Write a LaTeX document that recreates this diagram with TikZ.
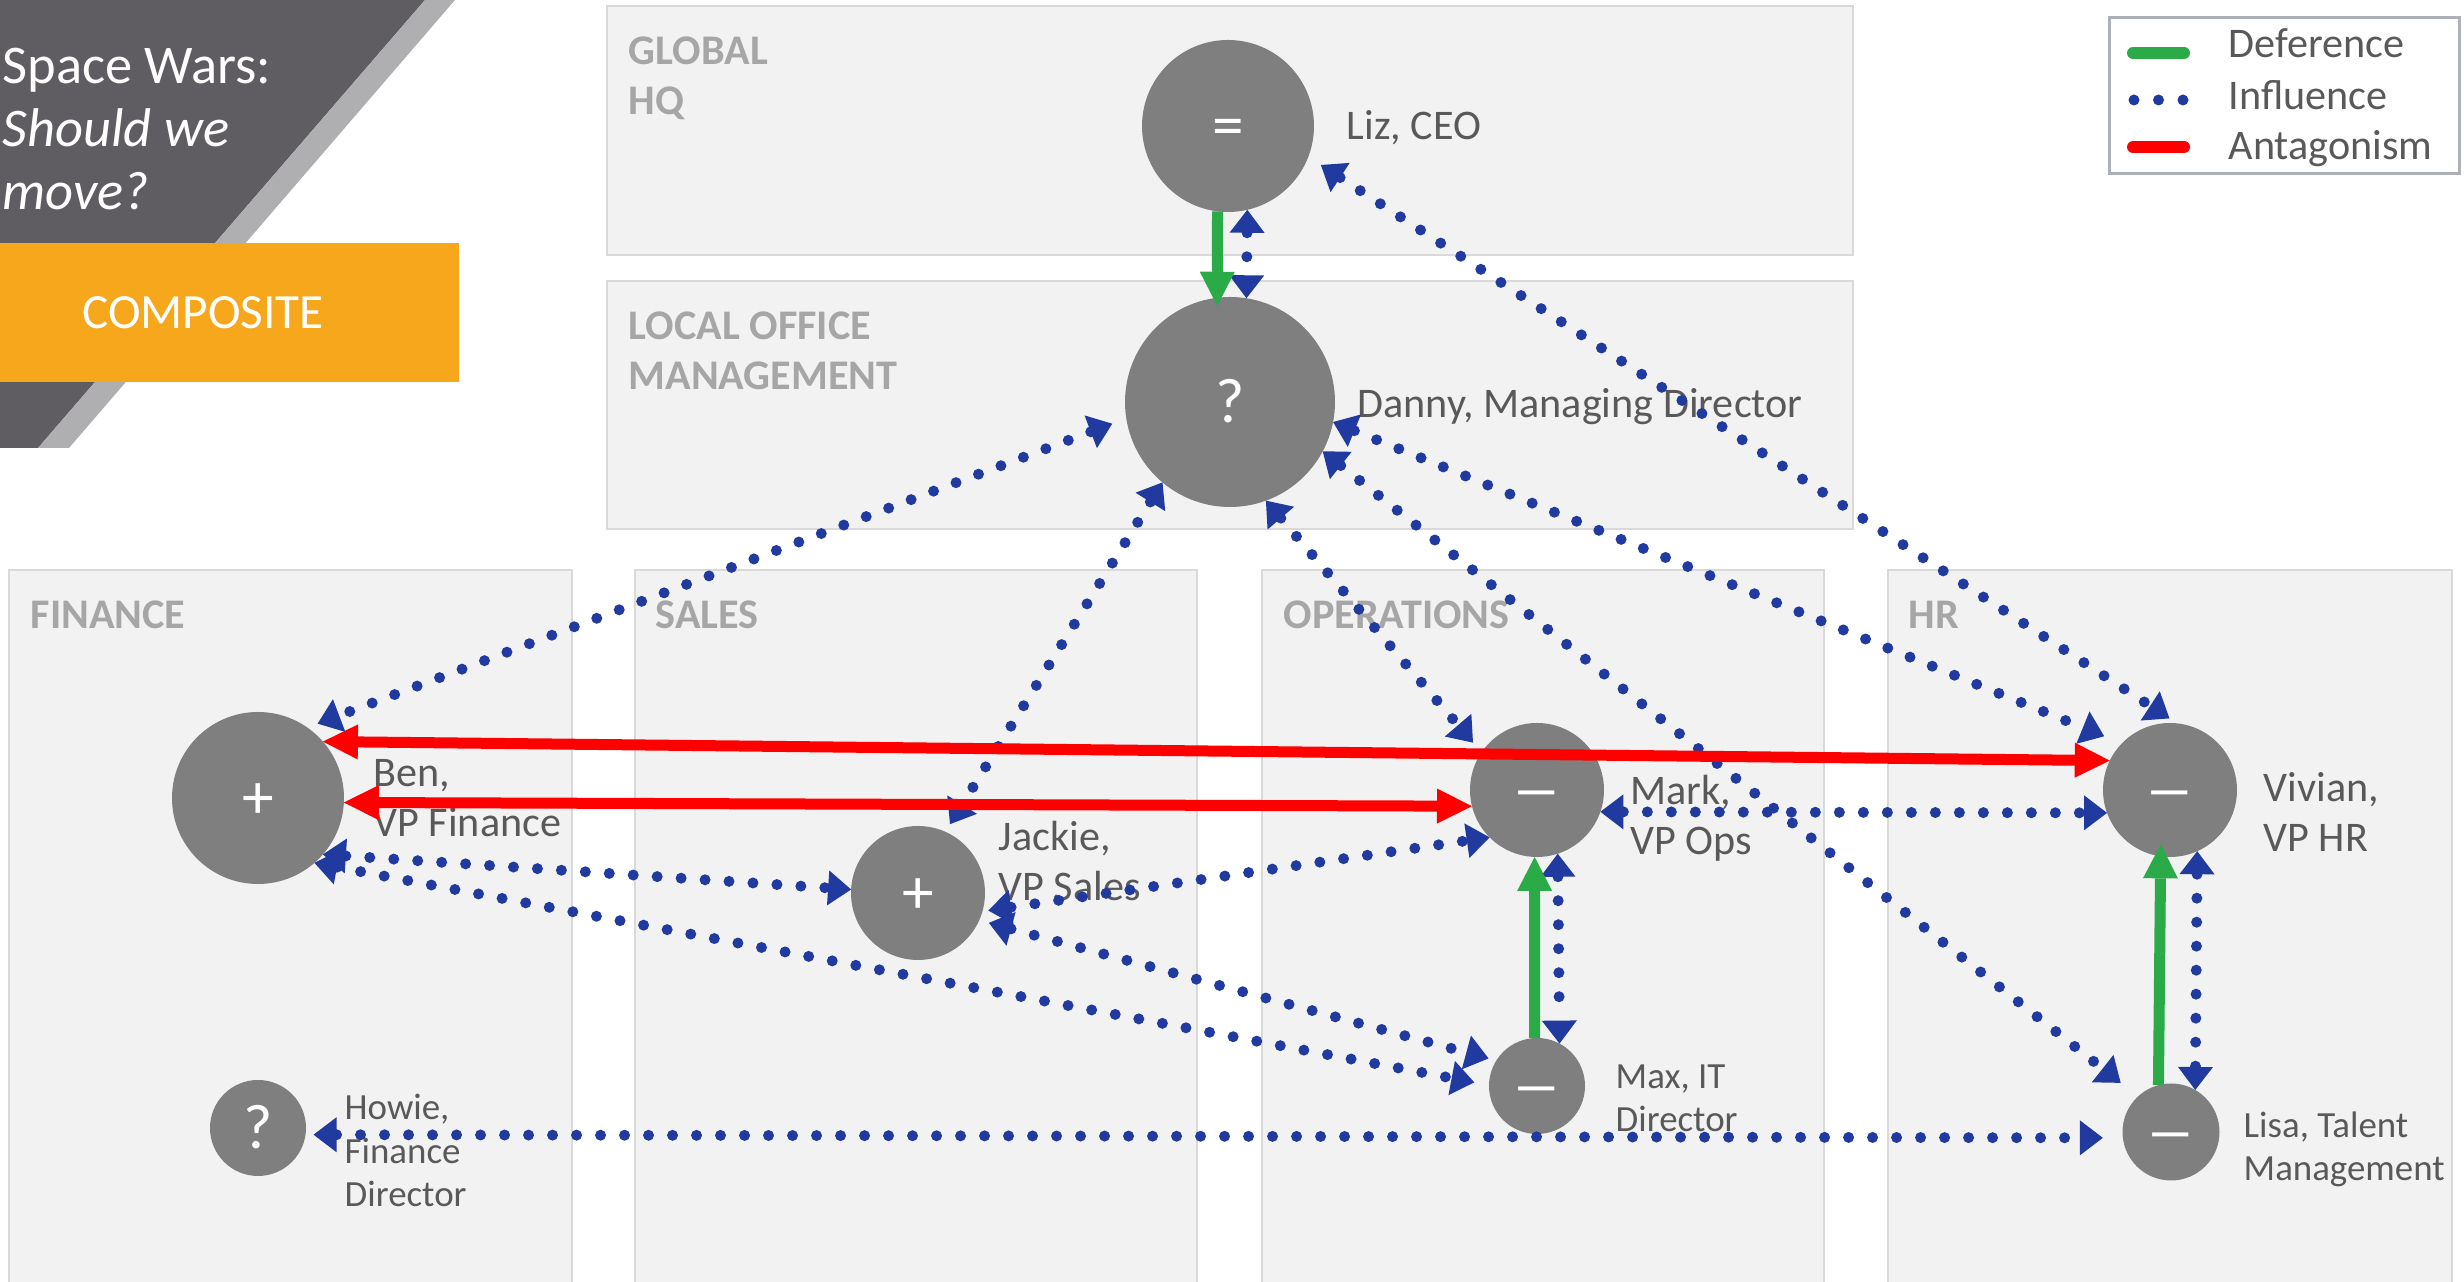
\documentclass[tikz,border=0pt]{standalone}
\usepackage{fontspec}
\setmainfont{Carlito}
\usepackage{tkz-graph}
\usetikzlibrary{arrows.meta}
\definecolor{infblue}{RGB}{32,58,160}
\definecolor{defgreen}{RGB}{42,171,72}
\definecolor{antred}{RGB}{255,0,0}
\definecolor{nodegray}{RGB}{127,127,127}
\definecolor{panelfill}{RGB}{242,242,242}
\definecolor{panelline}{RGB}{217,217,217}
\definecolor{panelword}{RGB}{166,166,166}
\definecolor{namegray}{RGB}{89,89,89}
\definecolor{titledark}{RGB}{95,93,97}
\definecolor{titlestripe}{RGB}{175,174,177}
\definecolor{composite}{RGB}{247,167,28}
\definecolor{legendline}{RGB}{173,177,183}
\newcommand{\minusbar}{\scalebox{1.6}[1]{–}}

\begin{document}
\begin{tikzpicture}
\GraphInit[vstyle=Normal]
\tikzset{VertexStyle/.style = {shape = circle, fill = nodegray, text = white, inner sep = 0pt, outer sep = 0pt, text height = 0.42cm, text depth = 0pt, font = \fontsize{18}{18}\selectfont},
  EdgeStyle/.style = {draw}, LabelStyle/.style = {inner sep = 0pt},
  dots/.style = {infblue, line width = 0.11cm, line cap = round, dash pattern = on 0pt off 0.24cm},
  influence/.style = {dots, >={Triangle[length=0.23cm,width=0.35cm,line width=0pt]}, <->},
  deference/.style = {defgreen, line width = 0.11cm, >={Triangle[length=0.34cm,width=0.35cm,line width=0pt]}, ->},
  antagonism/.style = {antred, line width = 0.11cm, >={Triangle[length=0.35cm,width=0.35cm,line width=0pt]}, <->},
  panel/.style = {fill = panelfill, draw = panelline, line width = 0.02cm},
  panellabel/.style = {anchor = base west, align = left, inner sep = 0pt, text = panelword, font = \fontsize{12}{14.5}\selectfont\bfseries},
  namelabel/.style = {anchor = base west, align = left, inner sep = 0pt, text = namegray, font = \fontsize{12}{14.4}\selectfont},
  smalllabel/.style = {namelabel, font = \fontsize{10.5}{12.5}\selectfont},
  titletext/.style = {anchor = base west, align = left, inner sep = 0pt, text = white, font = \fontsize{15.5}{18}\selectfont},
  legendtext/.style = {anchor = base west, inner sep = 0pt, text = namegray, font = \fontsize{12}{14.4}\selectfont}}
\useasboundingbox (0,0) rectangle (24.64,12.82);

% panels
\draw[panel] (6.07,10.27) rectangle (18.53,12.76);
\draw[panel] (6.07,7.53) rectangle (18.53,10.01);
\draw[panel] (0.09,-0.2) rectangle (5.72,7.12);
\draw[panel] (6.35,-0.2) rectangle (11.97,7.12);
\draw[panel] (12.62,-0.2) rectangle (18.24,7.12);
\draw[panel] (18.88,-0.2) rectangle (24.52,7.12);
% (base of a text block = its last line)
\node[panellabel] (hqlabel) at (6.28,11.67) {GLOBAL\\HQ};
\node[panellabel] (locallabel) at (6.28,8.92) {LOCAL OFFICE\\MANAGEMENT};
\node[panellabel] (financelabel) at (0.30,6.53) {FINANCE};
\node[panellabel] (saleslabel) at (6.55,6.53) {SALES};
\node[panellabel] (opslabel) at (12.83,6.53) {OPERATIONS};
\node[panellabel] (hrlabel) at (19.08,6.53) {HR};

% title
\fill[titledark] (0,12.82) -- (4.25,12.82) -- (0.38,8.34) -- (0,8.34) -- cycle;
\fill[titlestripe] (4.25,12.82) -- (4.55,12.82) -- (0.69,8.34) -- (0.38,8.34) -- cycle;
\node[fill = composite, minimum width = 5.12cm, minimum height = 1.39cm, inner sep = 0pt, text = white, font = \fontsize{14}{16}\selectfont] (compositebox) at (2.03,9.695) {COMPOSITE};
\node[titletext] (title) at (0.02,10.72) {Space Wars:\\\textit{Should we}\\\textit{move?}};

% legend
\draw[draw = legendline, fill = white, line width = 0.03cm] (21.09,11.08) rectangle (24.59,12.64);
\coordinate (defL) at (21.33,12.29); \coordinate (defR) at (21.84,12.29);
\coordinate (infL) at (21.34,11.82); \coordinate (infR) at (21.83,11.82);
\coordinate (antL) at (21.33,11.35); \coordinate (antR) at (21.84,11.35);
\draw[defgreen, line width = 0.12cm, line cap = round] (defL) -- (defR);
\draw[dots, dash pattern = on 0pt off 0.245cm] (infL) -- (infR);
\draw[antred, line width = 0.12cm, line cap = round] (antL) -- (antR);
\node[legendtext] (deftext) at (22.28,12.24) {Deference};
\node[legendtext] (inftext) at (22.28,11.72) {Influence};
\node[legendtext] (anttext) at (22.28,11.22) {Antagonism};

% names
\node[namelabel] (lizname) at (13.46,11.42) {Liz, CEO};
\node[namelabel] (dannyname) at (13.57,8.64) {Danny, Managing Director};
\node[namelabel] (benname) at (3.73,4.45) {Ben,\\VP Finance};
\node[namelabel] (jackiename) at (9.98,3.81) {Jackie,\\VP Sales};
\node[namelabel] (markname) at (16.30,4.27) {Mark,\\VP Ops};
\node[namelabel] (vivianname) at (22.63,4.30) {Vivian,\\VP HR};
\node[smalllabel] (maxname) at (16.15,1.50) {Max, IT\\Director};
\node[smalllabel] (lisaname) at (22.43,1.01) {Lisa, Talent\\Management};
\node[smalllabel] (howiename) at (3.44,0.75) {Howie,\\Finance\\Director};

% people
\Vertex[x=12.28,y=11.56,L={=},style={minimum size=1.72cm}]{liz}
\Vertex[x=12.30,y=8.80,L={?},style={minimum size=2.10cm}]{danny}
\Vertex[x=2.58,y=4.84,L={+},style={minimum size=1.72cm}]{ben}
\Vertex[x=9.18,y=3.89,L={+},style={minimum size=1.34cm}]{jackie}
\Vertex[x=2.58,y=1.54,L={?},style={minimum size=0.96cm}]{howie}
\Vertex[x=15.37,y=4.92,L={\minusbar},style={minimum size=1.34cm}]{mark}
\Vertex[x=15.37,y=1.96,L={\minusbar},style={minimum size=0.96cm}]{max}
\Vertex[x=21.70,y=4.92,L={\minusbar},style={minimum size=1.34cm}]{vivian}
\Vertex[x=21.71,y=1.50,L={\minusbar},style={minimum size=0.97cm}]{lisa}

% influence
\Edge[style={influence}](liz.-77)(danny.81)
\Edge[style={influence, shorten <=0.15cm, shorten >=0.09cm}](liz.-21)(vivian.84)
\Edge[style={influence, shorten <=0.15cm, shorten >=0.11cm}](danny.189)(ben.55)
\Edge[style={influence, shorten >=0.09cm}](danny.230)(jackie.66)
\Edge[style={influence, shorten >=0.13cm}](danny.-70)(mark.146)
\Edge[style={influence, shorten >=0.22cm}](danny.-28)(lisa.133)
\Edge[style={influence, shorten >=0.19cm}](danny.-11)(vivian.136)
\Edge[style={influence}](ben.-41)(jackie.177)
\Edge[style={influence, shorten >=0.15cm}](ben.-49)(max.179)
\Edge[style={influence, shorten <=0.1cm, shorten >=0.08cm}](jackie.-24)(max.148)
\Edge[style={influence, shorten <=0.06cm}](jackie.-16)(mark.225)
\Edge[style={influence}](mark.-19)(vivian.200)
\Edge[style={influence}](mark.-72)(max.62)
\Edge[style={influence}](vivian.-66)(lisa.60)
\Edge[style={influence, shorten <=0.08cm, shorten >=0.2cm}](howie.-8)(lisa.187)
% deference
\Edge[style={deference, shorten >=-0.08cm}](liz.263)(danny.97)
\Edge[style={deference}](max.93)(mark.268)
\Edge[style={deference, shorten >=-0.12cm}](lisa.105)(vivian.262)
% antagonism
\Edge[style={antagonism}](ben.41)(vivian.154)
\Edge[style={antagonism}](ben.-3)(mark.194)
\end{tikzpicture}
\end{document}
